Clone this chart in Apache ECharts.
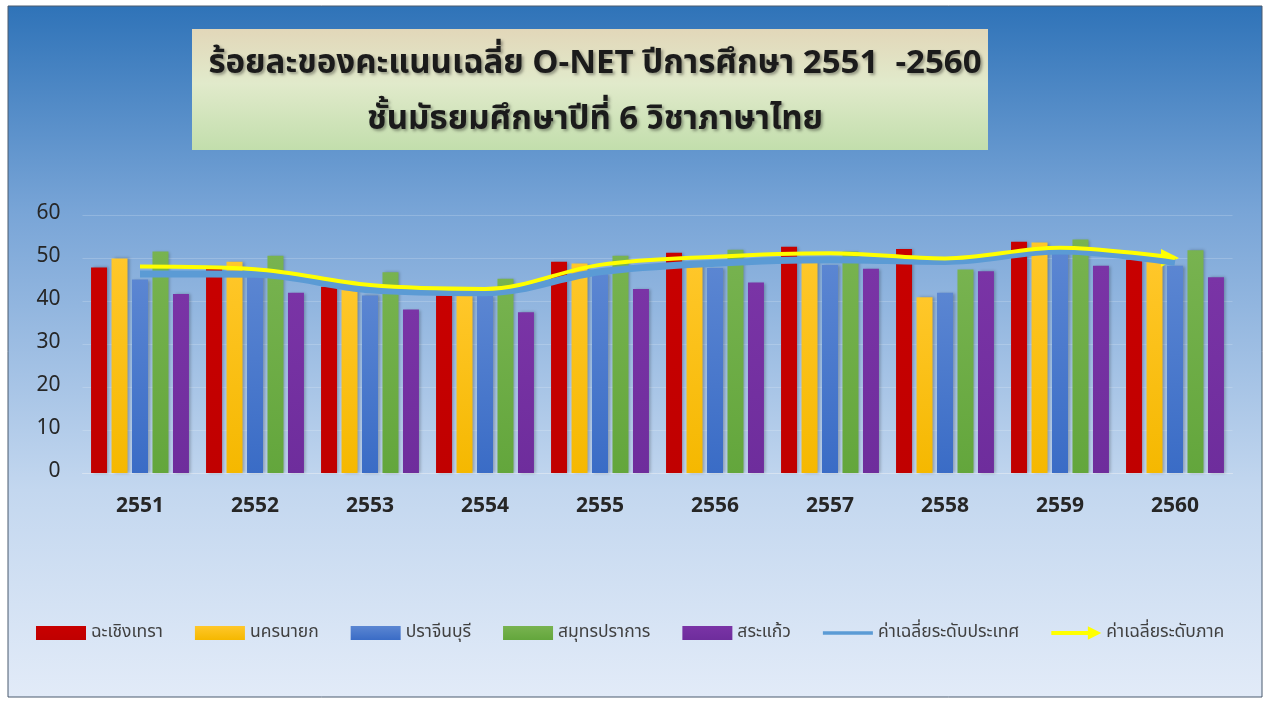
<!DOCTYPE html>
<html>
<head>
<meta charset="utf-8">
<script src="https://cdn.jsdelivr.net/npm/echarts@6/dist/echarts.min.js"></script>
<style>
  html, body { margin: 0; padding: 0; background: #fff; }
  #main { width: 1269px; height: 702px; }
</style>
</head>
<body>
<div id="main"></div>
<script>
// ปีการศึกษา
var years = ["2551", "2552", "2553", "2554", "2555", "2556", "2557", "2558", "2559", "2560"];
// คะแนนเฉลี่ยแต่ละจังหวัด
var chachoengsao = [47.8, 47.9, 43.3, 41.3, 49.1, 51.2, 52.6, 52.1, 53.8, 49.6];
var nakhonNayok  = [49.9, 49.1, 42.5, 41.2, 48.7, 49.0, 49.2, 40.9, 53.6, 49.2];
var prachinburi  = [45.0, 46.1, 41.3, 41.2, 46.2, 47.7, 48.4, 41.9, 51.5, 48.2];
var samutPrakan  = [51.5, 50.5, 46.7, 45.2, 50.5, 51.9, 51.5, 47.3, 54.3, 51.8];
var sakaeo       = [41.6, 41.9, 38.0, 37.4, 42.8, 44.3, 47.5, 46.9, 48.2, 45.5];
// ค่าเฉลี่ย
var nationalAvg  = [46.3, 46.2, 42.6, 41.9, 46.8, 48.8, 49.6, 49.2, 51.6, 49.0];
var regionalAvg  = [48.0, 47.4, 43.7, 42.8, 48.4, 50.3, 51.1, 49.9, 52.4, 50.0];
var yTicks = [0, 10, 20, 30, 40, 50, 60];

var thaiFont = "Tahoma, 'Noto Sans Thai', 'Leelawadee UI', 'Noto Sans', sans-serif";

function grad(top, bottom) {
  return new echarts.graphic.LinearGradient(0, 0, 0, 1, [
    { offset: 0, color: top },
    { offset: 1, color: bottom }
  ]);
}

function barSeries(name, data, top, bottom) {
  return {
    name: name,
    type: "bar",
    data: data,
    barWidth: 16,
    barGap: "28%",
    itemStyle: {
      color: grad(top, bottom),
      shadowColor: "rgba(0,0,0,0.25)",
      shadowBlur: 3,
      shadowOffsetX: 2
    }
  };
}

var titleStyle = {
  fontFamily: thaiFont, fontSize: 33, fontWeight: "bold", color: "#1b1b1b",
  textShadowColor: "rgba(0,0,0,0.35)", textShadowBlur: 3, textShadowOffsetX: 2, textShadowOffsetY: 2
};

var chart = echarts.init(document.getElementById("main"));
chart.setOption({
  backgroundColor: "#ffffff",
  animation: false,
  textStyle: { fontFamily: thaiFont },
  graphic: [
    {
      type: "rect", z: -10,
      shape: { x: 8, y: 6, width: 1254, height: 691 },
      style: {
        fill: new echarts.graphic.LinearGradient(0, 0, 0, 1, [
          { offset: 0, color: "#2f73b8" },
          { offset: 0.3, color: "#79a5d7" },
          { offset: 0.7, color: "#c3d7ef" },
          { offset: 1, color: "#e2ebf8" }
        ]),
        stroke: "#4a5a6e", lineWidth: 1
      }
    },
    {
      type: "rect", z: -5,
      shape: { x: 192, y: 29, width: 796, height: 121 },
      style: {
        fill: new echarts.graphic.LinearGradient(0, 0, 0, 1, [
          { offset: 0, color: "#e2d7b9" },
          { offset: 0.45, color: "#e1eacb" },
          { offset: 1, color: "#c2deac" }
        ])
      }
    }
  ],
  title: [
    {
      text: "ร้อยละของคะแนนเฉลี่ย O-NET ปีการศึกษา 2551  -2560",
      left: 590, top: 45, textAlign: "center",
      textStyle: titleStyle
    },
    {
      text: "ชั้นมัธยมศึกษาปีที่ 6 วิชาภาษาไทย",
      left: 590, top: 101, textAlign: "center",
      textStyle: titleStyle
    }
  ],
  legend: {
    left: 31, top: 619,
    itemWidth: 50, itemHeight: 14, itemGap: 32,
    textStyle: { fontFamily: thaiFont, fontSize: 17.5, color: "#404040" },
    data: [
      { name: "ฉะเชิงเทรา", icon: "rect" },
      { name: "นครนายก", icon: "rect" },
      { name: "ปราจีนบุรี", icon: "rect" },
      { name: "สมุทรปราการ", icon: "rect" },
      { name: "สระแก้ว", icon: "rect" },
      { name: "ค่าเฉลี่ยระดับประเทศ", icon: "path://M0,0 L52,0 L52,3.5 L0,3.5 Z" },
      { name: "ค่าเฉลี่ยระดับภาค", icon: "path://M0,5 L38,5 L38,0 L52,7 L38,14 L38,9 L0,9 Z" }
    ]
  },
  grid: { left: 82.5, right: 36.5, top: 215, bottom: 229 },
  xAxis: {
    type: "category",
    data: years,
    axisLine: { show: true, lineStyle: { color: "#d6e2f1", width: 1 } },
    axisTick: { show: false },
    axisLabel: { margin: 24, fontSize: 21, fontWeight: "bold", color: "#262626", fontFamily: thaiFont }
  },
  yAxis: {
    type: "value",
    min: yTicks[0], max: yTicks[yTicks.length - 1], interval: 10,
    axisLine: { show: false },
    axisTick: { show: false },
    axisLabel: { margin: 22, fontSize: 21, color: "#262626", fontFamily: thaiFont },
    splitLine: { lineStyle: { color: "rgba(255,255,255,0.18)", width: 1 } }
  },
  series: [
    barSeries("ฉะเชิงเทรา", chachoengsao, "#c80000", "#c00000"),
    barSeries("นครนายก", nakhonNayok, "#ffc72a", "#f5b800"),
    barSeries("ปราจีนบุรี", prachinburi, "#5b86d2", "#3a6cc6"),
    barSeries("สมุทรปราการ", samutPrakan, "#78b350", "#63a63c"),
    barSeries("สระแก้ว", sakaeo, "#7a34a6", "#6e2d9c"),
    {
      name: "ค่าเฉลี่ยระดับประเทศ",
      type: "line",
      data: nationalAvg,
      smooth: 0.35,
      symbol: "none",
      z: 5,
      lineStyle: { color: "#5b9bd5", width: 7 },
      itemStyle: { color: "#5b9bd5" }
    },
    {
      name: "ค่าเฉลี่ยระดับภาค",
      type: "line",
      data: regionalAvg,
      smooth: 0.35,
      symbol: "none",
      z: 6,
      lineStyle: { color: "#ffff00", width: 4 },
      itemStyle: { color: "#ffff00" },
      markPoint: {
        symbol: "triangle",
        symbolSize: [18, 18],
        symbolRotate: -90,
        symbolOffset: [-5, 0],
        silent: true,
        label: { show: false },
        itemStyle: { color: "#ffff00" },
        data: [{ coord: [years[years.length - 1], regionalAvg[regionalAvg.length - 1]] }]
      }
    }
  ]
});
</script>
</body>
</html>
